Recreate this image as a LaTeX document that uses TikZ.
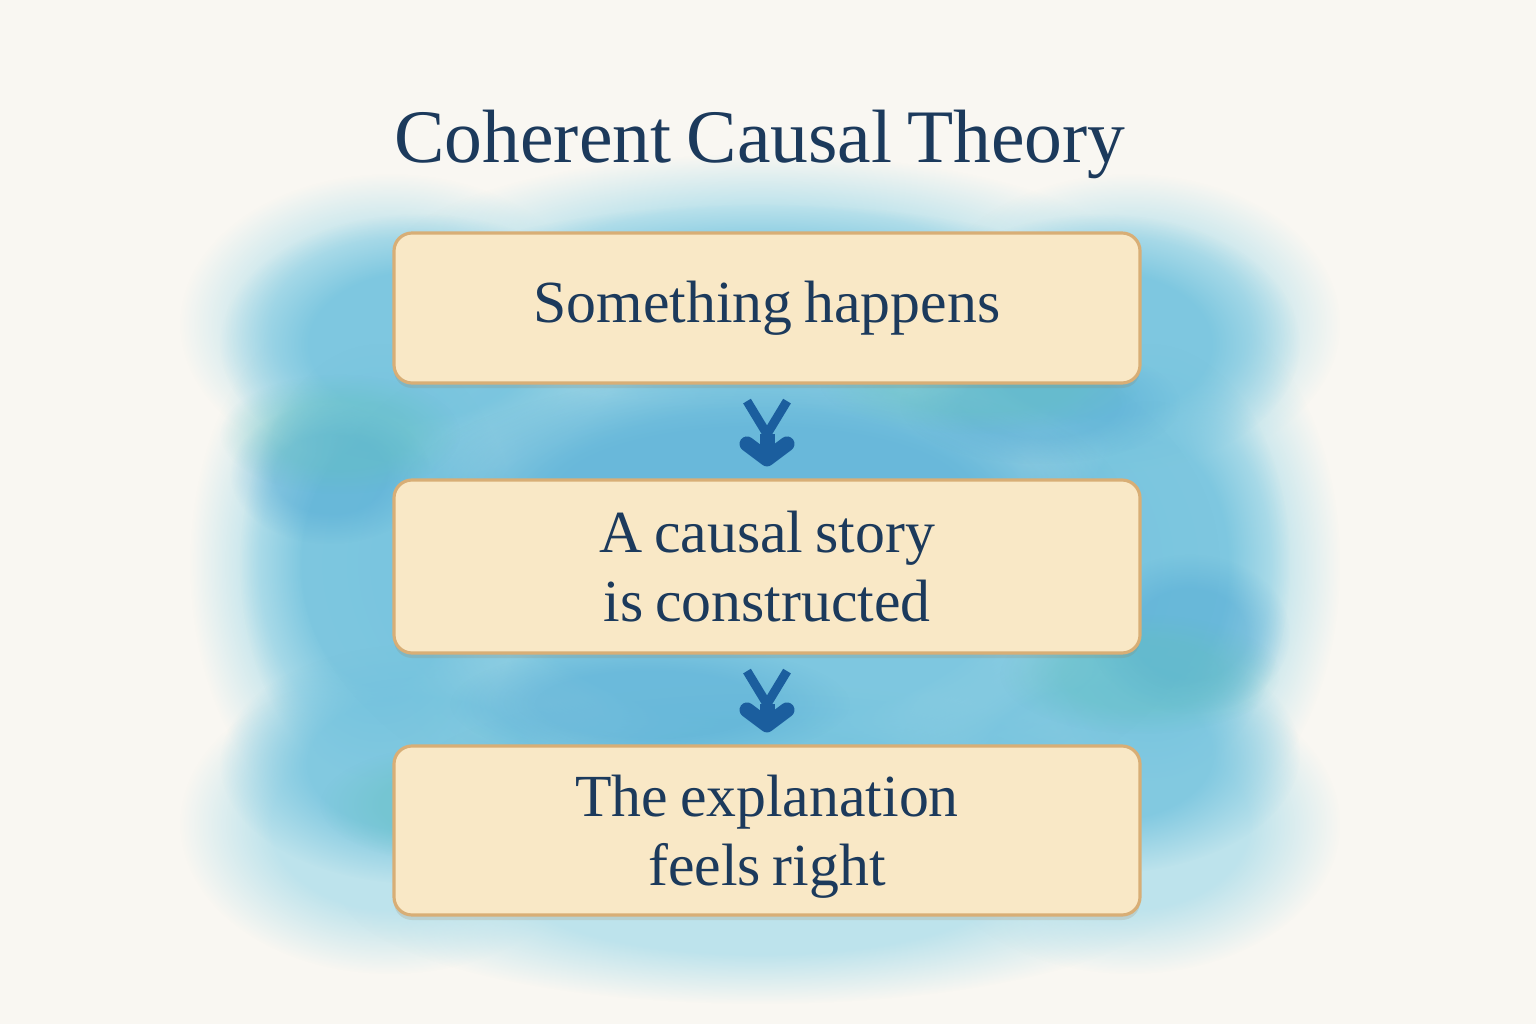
\documentclass[tikz,border=0pt]{standalone}
\usepackage{fontspec}
\setmainfont{Liberation Serif}[WordSpace=0.8]
\usetikzlibrary{arrows.meta,shadows,fadings}
\definecolor{paper}{HTML}{F9F7F2}
\definecolor{ink}{HTML}{1C3A5C}
\definecolor{arrowblue}{HTML}{1B5E9E}
\definecolor{boxfill}{HTML}{F9E8C6}
\definecolor{boxedge}{HTML}{D8AE76}
\definecolor{washpale}{HTML}{BDE3EC}
\definecolor{washblue}{HTML}{74C3DE}
\definecolor{washdeep}{HTML}{4AA3D2}
\definecolor{washteal}{HTML}{62C0BE}
% soft edge for the wash blobs
\pgfdeclareradialshading{washshade}{\pgfpointorigin}{color(0bp)=(pgftransparent!0); color(14bp)=(pgftransparent!0); color(25bp)=(pgftransparent!100); color(50bp)=(pgftransparent!100)}
\pgfdeclarefading{wash}{\pgfuseshading{washshade}}
\begin{document}
\begin{tikzpicture}[
  stepbox/.style={draw=boxedge, line width=0.9pt, fill=boxfill, rounded corners=0.18cm,
    minimum width=7.46cm, align=center, text=ink,
    font=\fontsize{17}{19.5}\selectfont,
    drop shadow={shadow xshift=0pt, shadow yshift=-0.05cm, opacity=0.18, fill=boxedge!70!black}},
  flow/.style={arrowblue, line width=0.15cm, shorten <=0.12cm, shorten >=0.12cm,
    {Straight Barb[reversed, length=0.33cm, width=0.4cm, line width=0.09cm]}-{Straight Barb[length=0.15cm, width=0.4cm, round]}}
]
  % paper
  \fill[paper] (0,0) rectangle (15.36,10.24);
  \useasboundingbox (0,0) rectangle (15.36,10.24);

  % watercolour wash, x/y/rx/ry/colour/opacity
  \foreach \x/\y/\a/\b/\c/\o in {
      3.9/7.0/2.1/1.5/washpale/1, 7.6/7.5/3.8/1.2/washpale/1, 11.3/7.0/2.1/1.5/washpale/1,
      3.5/4.6/1.6/2.6/washpale/1, 11.8/4.6/1.6/2.6/washpale/1,
      3.9/2.0/2.1/1.5/washpale/1, 7.6/1.35/4.2/1.15/washpale/1, 11.3/2.0/2.1/1.5/washpale/1,
      7.6/4.6/5.0/3.4/washpale/1,
      4.2/6.8/2.0/1.3/washblue/0.85, 7.6/7.2/3.6/1.0/washblue/0.85, 11.0/6.8/2.0/1.3/washblue/0.85,
      3.8/4.6/1.4/2.2/washblue/0.85, 11.5/4.6/1.4/2.2/washblue/0.85,
      4.2/2.6/2.0/1.2/washblue/0.8, 7.6/2.3/3.6/1.1/washblue/0.8, 11.0/2.7/2.0/1.2/washblue/0.8,
      7.6/4.6/4.6/2.8/washblue/0.85,
      3.3/5.5/1.0/0.7/washdeep/0.4, 7.6/5.3/3.6/1.2/washdeep/0.4, 11.9/3.9/1.0/0.8/washdeep/0.4,
      6.5/3.2/2.0/0.6/washdeep/0.35, 10.4/6.2/1.4/0.6/washdeep/0.35,
      3.4/5.9/1.2/0.6/washteal/0.4, 11.4/3.5/1.4/0.6/washteal/0.4, 4.6/2.2/1.4/0.6/washteal/0.4,
      9.8/6.4/1.6/0.5/washteal/0.4}
    \fill[\c, opacity=\o, path fading=wash] (\x,\y) ellipse (\a cm and \b cm);

  % title
  \node[text=ink, font=\fontsize{21.5}{26}\selectfont, anchor=base] (title) at (7.60,8.61) {Coherent Causal Theory};

  % steps
  \node[stepbox, minimum height=1.50cm] (happen) at (7.67,7.16) {Something happens};
  \node[stepbox, minimum height=1.73cm] (story) at (7.67,4.575) {A causal story\\is constructed};
  \node[stepbox, minimum height=1.69cm] (right) at (7.67,1.935) {\rule{0pt}{0.9em}The explanation\\feels right};

  % arrows
  \draw[flow] (happen) -- (story);
  \draw[flow] (story) -- (right);
\end{tikzpicture}
\end{document}
